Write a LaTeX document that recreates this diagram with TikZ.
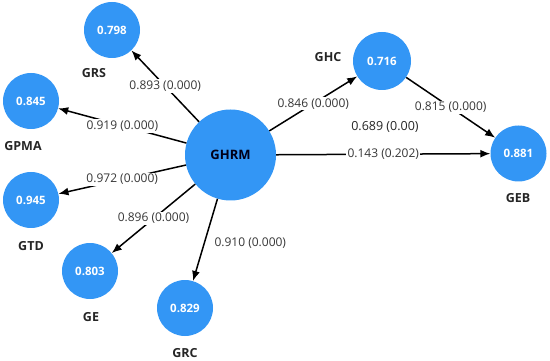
\documentclass[tikz,border=0pt]{standalone}
\usepackage{fontspec}
\setmainfont{Open Sans}
\usetikzlibrary{arrows.meta,calc}
\definecolor{nodeblue}{RGB}{51,150,245}
\definecolor{lbltext}{RGB}{55,55,55}
\tikzset{
  lv/.style={circle,fill=nodeblue,draw=none,minimum size=56pt,inner sep=0pt,
    text=white,font=\fontsize{11.5}{13}\selectfont\bfseries},
  hub/.style={lv,minimum size=91pt,text=black!90!blue,font=\fontsize{13}{15}\selectfont\bfseries},
  namelbl/.style={font=\fontsize{12.5}{14}\selectfont\bfseries,text=black!85,inner sep=0pt},
  conn/.style={line width=1.5pt,-{Latex[length=10pt,width=8pt]}},
  elbl/.style={fill=white,inner sep=1.5pt,font=\fontsize{12}{14}\selectfont,text=lbltext}
}
\begin{document}
\begin{tikzpicture}[x=1pt,y=-1pt]
\useasboundingbox (0,0) rectangle (550,361);
\node[hub] (ghrm) at (230.5,155) {GHRM};
\node[lv] (grs) at (112,30) {0.798};
\node[lv] (gpma) at (31,101) {0.845};
\node[lv] (gtd) at (31,200) {0.945};
\node[lv] (ge) at (90,271) {0.803};
\node[lv] (grc) at (185,308) {0.829};
\node[lv,minimum size=58pt] (ghc) at (382,61) {0.716};
\node[lv] (geb) at (518.5,153.5) {0.881};
\node[namelbl] (grsl) at (94,73) {GRS};
\node[namelbl] (gpmal) at (23,146) {GPMA};
\node[namelbl] (gtdl) at (31,246) {GTD};
\node[namelbl] (gel) at (91,317) {GE};
\node[namelbl] (grcl) at (185,353) {GRC};
\node[namelbl] (ghcl) at (328,57) {GHC};
\node[namelbl] (gebl) at (518,198) {GEB};
\draw[conn] (ghrm) -- node[elbl] {0.893 (0.000)} (grs);
\draw[conn] (ghrm) -- node[elbl] {0.919 (0.000)} (gpma);
\draw[conn] (ghrm) -- node[elbl] {0.972 (0.000)} (gtd);
\draw[conn] (ghrm) -- node[elbl] {0.896 (0.000)} (ge);
\draw[conn] (ghrm) -- node[pos=0.54,anchor=west,xshift=8pt,inner sep=1.5pt,font=\fontsize{12}{14}\selectfont,text=lbltext] {0.910 (0.000)} (grc);
\draw[conn] (ghrm) -- node[elbl] {0.846 (0.000)} (ghc);
\draw[conn] (ghc) -- node[elbl] {0.815 (0.000)} (geb);
\draw[conn] (ghrm) -- node[elbl] {0.143 (0.202)} (geb);
\node[font=\fontsize{12.5}{14}\selectfont,text=black!85] (ind) at (385,127) {0.689 (0.00)};
\end{tikzpicture}
\end{document}
